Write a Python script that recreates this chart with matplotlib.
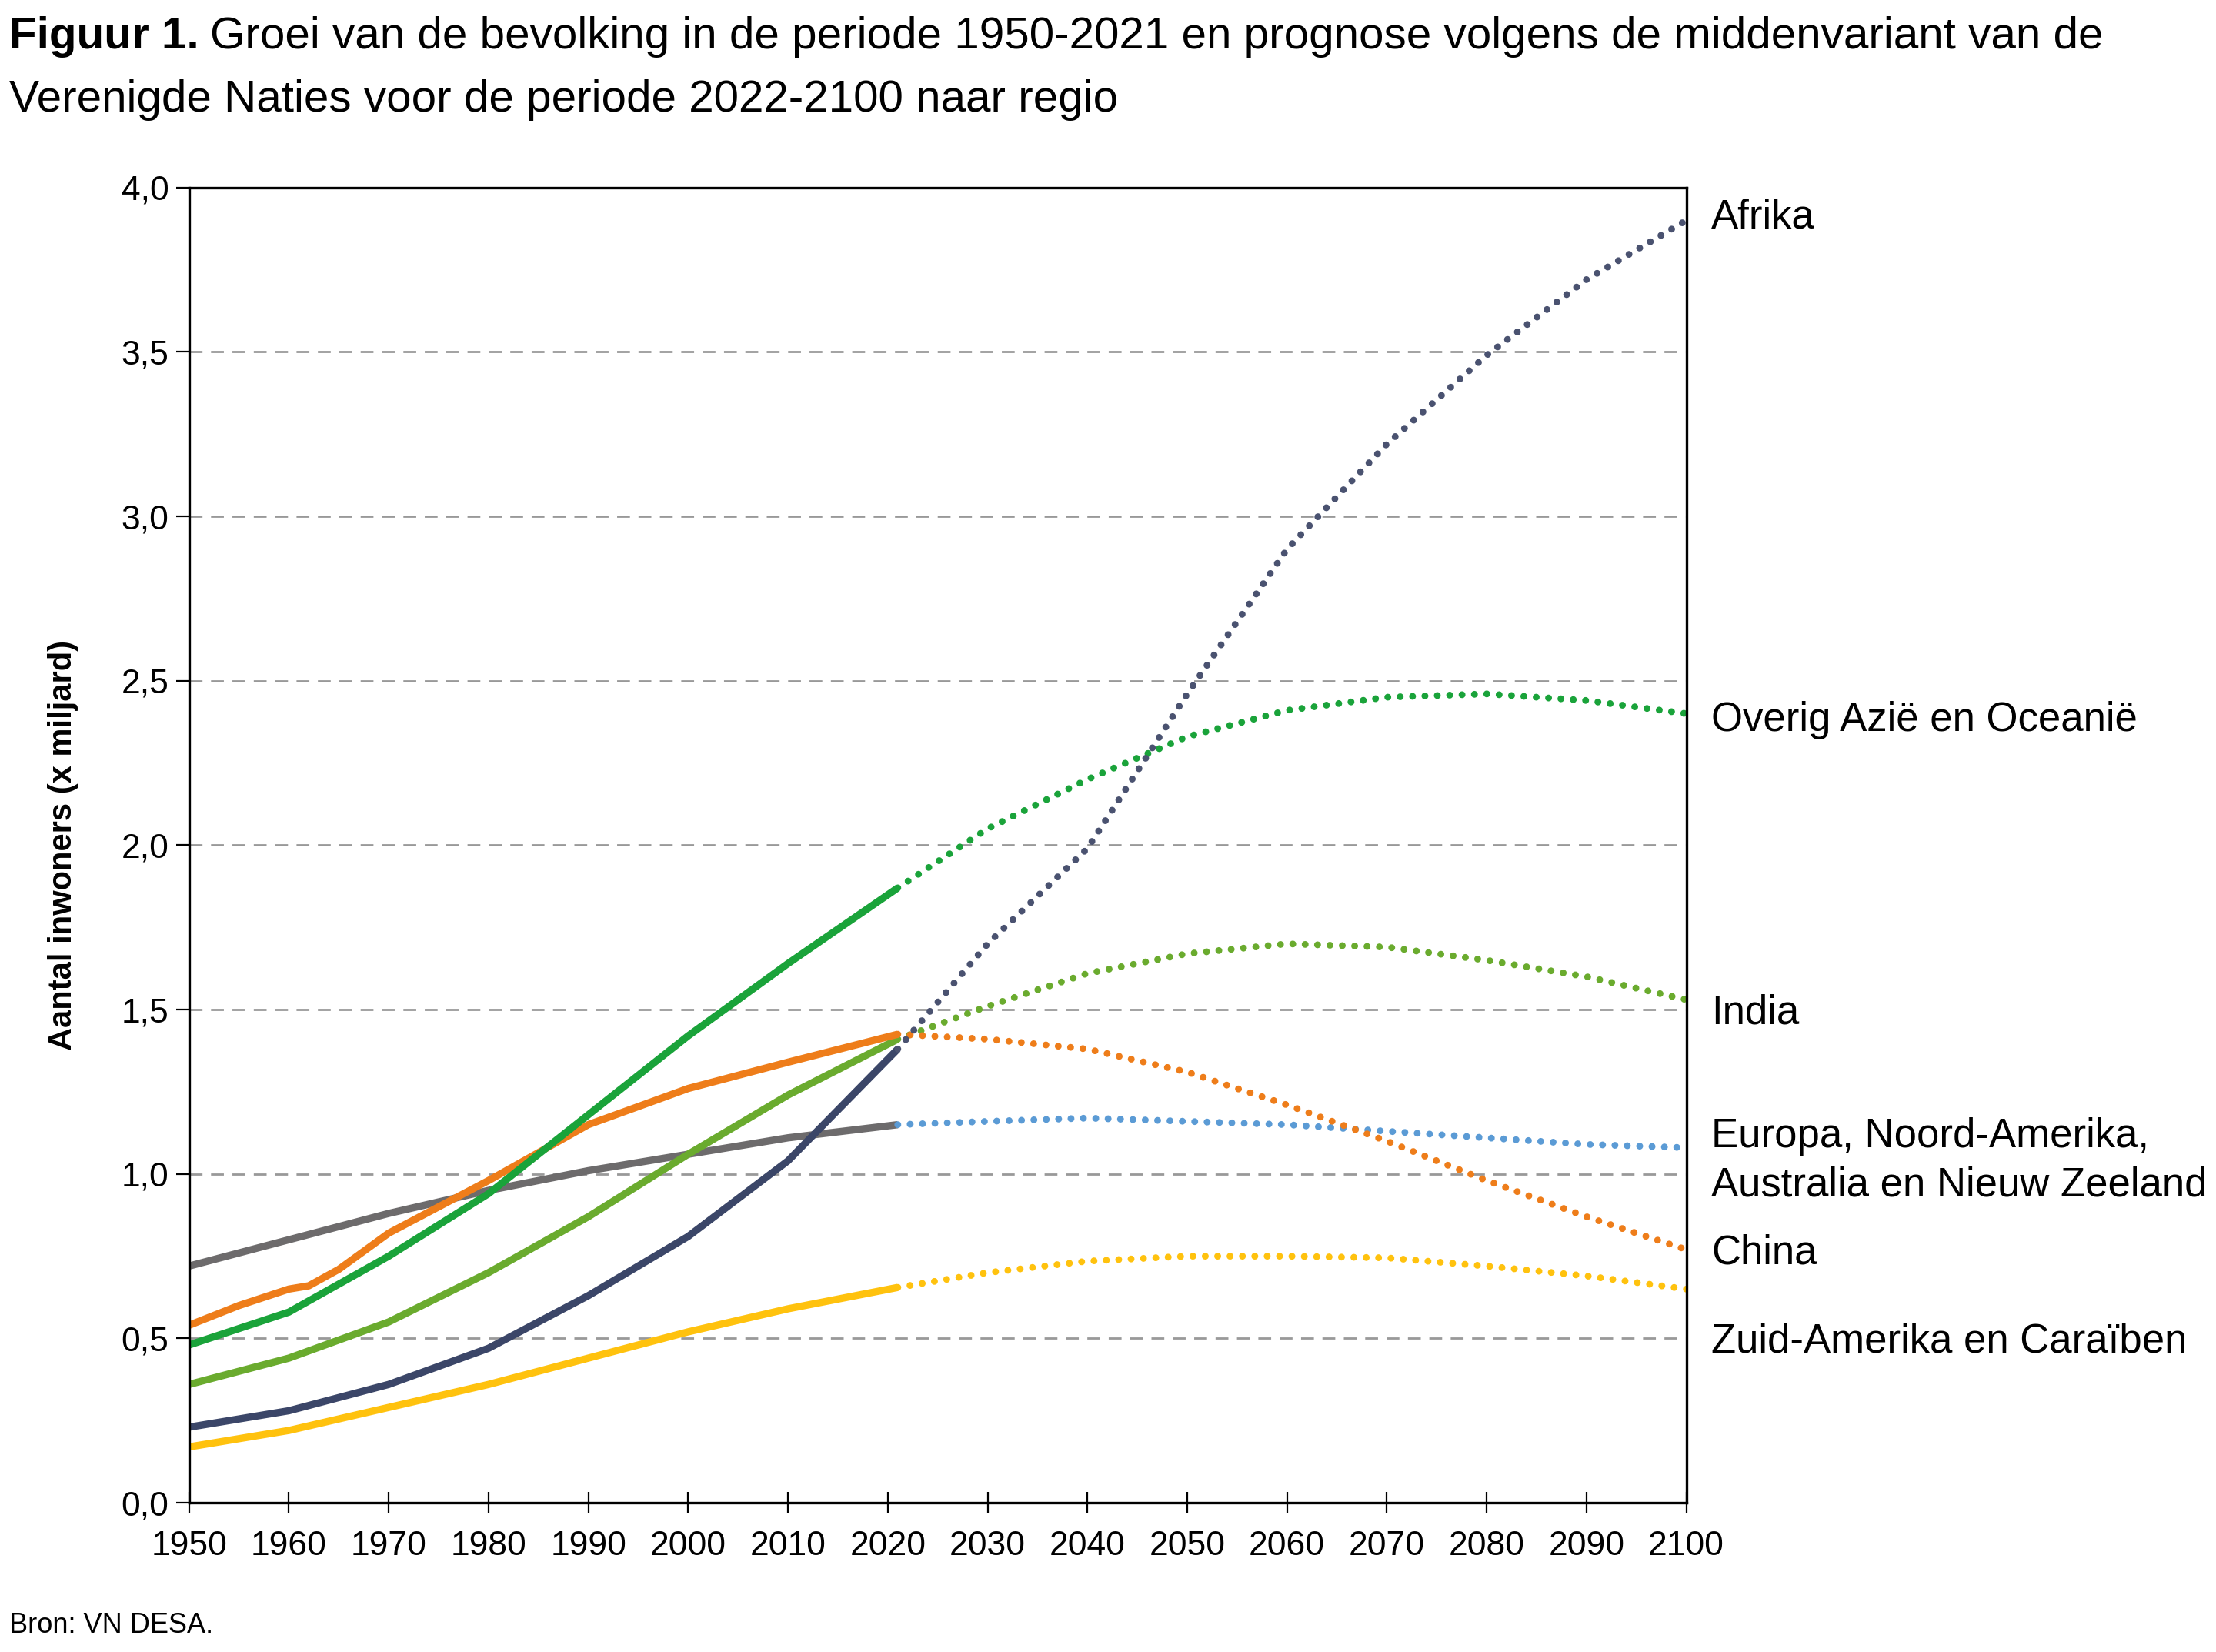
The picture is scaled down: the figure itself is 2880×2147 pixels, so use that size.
import matplotlib
matplotlib.use("Agg")
import matplotlib.pyplot as plt

plt.rcParams['font.family'] = ['Liberation Sans', 'DejaVu Sans']

hist_years = [1950, 1960, 1970, 1980, 1990, 2000, 2010, 2021]
proj_years = [2021, 2030, 2040, 2050, 2060, 2070, 2080, 2090, 2100]

africa_h = [0.23, 0.28, 0.36, 0.47, 0.63, 0.81, 1.04, 1.38]
africa_p = [1.38, 1.70, 1.99, 2.46, 2.90, 3.22, 3.49, 3.72, 3.90]
asia_h = [0.48, 0.58, 0.75, 0.94, 1.18, 1.42, 1.64, 1.87]
asia_p = [1.87, 2.05, 2.20, 2.33, 2.41, 2.45, 2.46, 2.44, 2.40]
india_h = [0.36, 0.44, 0.55, 0.70, 0.87, 1.06, 1.24, 1.41]
india_p = [1.41, 1.51, 1.61, 1.67, 1.70, 1.69, 1.65, 1.60, 1.53]
china_years = [1950, 1955, 1960, 1962, 1965, 1970, 1980, 1990, 2000, 2010, 2021]
china_h = [0.54, 0.60, 0.65, 0.66, 0.71, 0.82, 0.98, 1.15, 1.26, 1.34, 1.425]
china_p = [1.425, 1.41, 1.38, 1.31, 1.21, 1.10, 0.98, 0.87, 0.77]
europe_h = [0.72, 0.80, 0.88, 0.95, 1.01, 1.06, 1.11, 1.15]
europe_p = [1.15, 1.16, 1.17, 1.16, 1.15, 1.13, 1.11, 1.09, 1.08]
latam_h = [0.17, 0.22, 0.29, 0.36, 0.44, 0.52, 0.59, 0.655]
latam_p = [0.655, 0.70, 0.735, 0.75, 0.75, 0.745, 0.72, 0.69, 0.65]

labels = ["Afrika", "Overig Azië en Oceanië", "India",
          "Europa, Noord-Amerika,\nAustralia en Nieuw Zeeland", "China",
          "Zuid-Amerika en Caraïben"]
label_y = [3.91, 2.38, 1.49, 1.04, 0.76, 0.49]

fig = plt.figure(figsize=(14.4, 10.735), dpi=200)
ax = fig.add_axes([0.0853, 0.0903, 0.6757, 0.7962])

dot = dict(linestyle=(0, (0.01, 1.8)), dash_capstyle='round', lw=3.2)
solid = dict(lw=3.4, solid_capstyle='butt')

series = [
    (hist_years, europe_h, europe_p, '#6d6b6c', '#5b9bd5'),
    (hist_years, latam_h, latam_p, '#ffc20e', '#ffc20e'),
    (hist_years, india_h, india_p, '#6aab2e', '#6aab2e'),
    (china_years, china_h, china_p, '#ee7d1a', '#ee7d1a'),
    (hist_years, asia_h, asia_p, '#1aa33a', '#1aa33a'),
    (hist_years, africa_h, africa_p, '#3b4668', '#4a5270'),
]
for hy, h, p, c1, c2 in series:
    ax.plot(hy, h, color=c1, **solid)
    ax.plot(proj_years, p, color=c2, **dot)

ax.set_xlim(1950, 2100)
ax.set_ylim(0, 4)
ax.set_xticks(range(1950, 2101, 10))
ax.set_yticks([i * 0.5 for i in range(9)])
ax.set_yticklabels([f"{i*0.5:.1f}".replace('.', ',') for i in range(9)])
ax.tick_params(labelsize=16, length=6, direction='out')
ax.tick_params(axis='x', direction='inout', length=10, pad=8)
for y in [i * 0.5 for i in range(1, 8)]:
    ax.axhline(y, color='#999999', lw=1, ls=(0, (6, 4)), zorder=0)
for s in ax.spines.values():
    s.set_linewidth(1.2)
ax.set_ylabel("Aantal inwoners (x miljard)", fontsize=15, fontweight='bold', labelpad=20)

for t, y in zip(labels, label_y):
    ax.text(2102.5, y, t, fontsize=19, va='center', ha='left', linespacing=1.35,
            clip_on=False)

t1 = fig.text(0.004, 0.990, "Figuur 1.", fontsize=21, fontweight='bold', va='top')
fig.canvas.draw()
bb = t1.get_window_extent().transformed(fig.transFigure.inverted())
fig.text(bb.x1 + 0.005, 0.990, "Groei van de bevolking in de periode 1950-2021 en prognose volgens de middenvariant van de",
         fontsize=21, va='top')
fig.text(0.004, 0.952, "Verenigde Naties voor de periode 2022-2100 naar regio",
         fontsize=21, va='top')
fig.text(0.004, 0.008, "Bron: VN DESA.", fontsize=13, va='bottom')

fig.savefig("out.png", dpi=200)
